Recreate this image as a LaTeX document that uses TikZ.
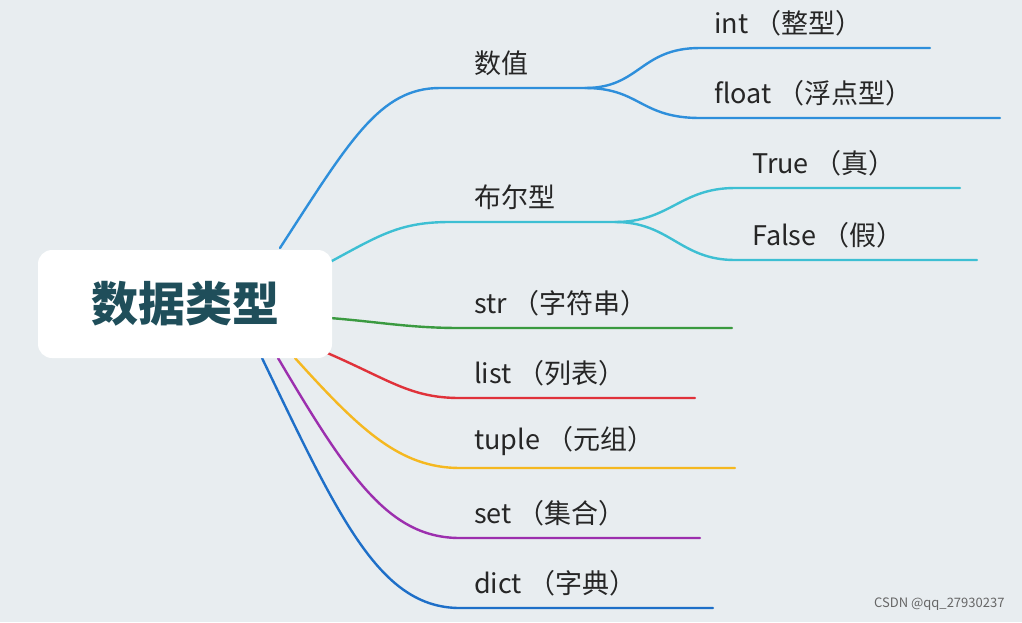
\documentclass[tikz,border=0pt]{standalone}
\usepackage{fontspec}
\setmainfont{Noto Sans CJK SC}
\begin{document}
\begin{tikzpicture}[x=1pt,y=-1pt,
  lab/.style={anchor=south west,inner sep=0pt,font=\fontsize{27}{30}\selectfont,text=black!85},
  br/.style={line width=2.4pt,line cap=round}]
\definecolor{bg}{HTML}{E8EDF0}
\definecolor{cblue}{HTML}{2E8FDB}
\definecolor{ccyan}{HTML}{3DBFD3}
\definecolor{cgreen}{HTML}{3A9A40}
\definecolor{cred}{HTML}{E0323A}
\definecolor{cyel}{HTML}{F5B820}
\definecolor{cpur}{HTML}{9C2FAE}
\definecolor{cdb}{HTML}{1E6FC8}
\definecolor{root}{HTML}{1F4E5A}
\fill[bg] (0,0) rectangle (1022,622);
\useasboundingbox (0,0) rectangle (1022,622);
% branches
\draw[br,cblue] (280,248) .. controls (350,140) and (380,88) .. (440,88) -- (585,88);
\draw[br,cblue] (585,88) .. controls (640,88) and (640,48) .. (700,48) -- (930,48);
\draw[br,cblue] (585,88) .. controls (640,88) and (640,118) .. (700,118) -- (1000,118);
\draw[br,ccyan] (330,262) .. controls (380,235) and (400,222) .. (450,222) -- (615,222);
\draw[br,ccyan] (615,222) .. controls (670,222) and (680,188) .. (735,188) -- (960,188);
\draw[br,ccyan] (615,222) .. controls (670,222) and (680,260) .. (735,260) -- (977,260);
\draw[br,cgreen] (330,318) .. controls (380,322) and (410,328) .. (460,328) -- (732,328);
\draw[br,cred] (325,352) .. controls (390,380) and (410,398) .. (460,398) -- (695,398);
\draw[br,cyel] (295,358) .. controls (360,430) and (400,468) .. (460,468) -- (735,468);
\draw[br,cpur] (278,358) .. controls (350,480) and (390,538) .. (460,538) -- (700,538);
\draw[br,cdb] (262,358) .. controls (340,520) and (380,608) .. (460,608) -- (713,608);
% root
\node[fill=white,rounded corners=14pt,minimum width=294pt,minimum height=108pt,
  font=\fontsize{47}{50}\selectfont\bfseries,text=root] (r) at (185,304) {数据类型};
% labels
\node[lab] (n1) at (474,76) {数值};
\node[lab] (n11) at (714,36) {int （整型）};
\node[lab] (n12) at (714,106) {float （浮点型）};
\node[lab] (n2) at (474,210) {布尔型};
\node[lab] (n21) at (752,176) {True （真）};
\node[lab] (n22) at (752,248) {False （假）};
\node[lab] (n3) at (474,316) {str （字符串）};
\node[lab] (n4) at (474,386) {list （列表）};
\node[lab] (n5) at (474,456) {tuple （元组）};
\node[lab] (n6) at (474,526) {set （集合）};
\node[lab] (n7) at (474,596) {dict （字典）};
\node[anchor=east,font=\fontsize{13}{15}\selectfont,text=black!60] (wm) at (1008,604) {CSDN @qq\_27930237};
\end{tikzpicture}
\end{document}
